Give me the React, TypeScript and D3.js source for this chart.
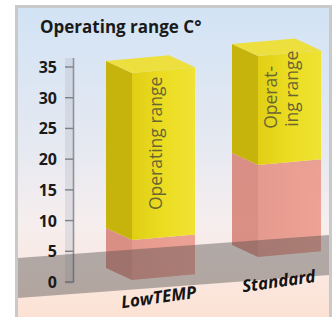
import React from "react";
import * as d3 from "d3";

const categories = ["LowTEMP", "Standard"];
const ambientTop = [6.5, 15];
const rangeTop = [33.7, 32.7];
const tickValues = [0, 5, 10, 15, 20, 25, 30, 35];
const title = "Operating range C°";
const barTextLines = [["Operating range"], ["Operat-", "ing range"]];

const W = 332;
const H = 317;

export default function App() {
  const y = d3.scaleLinear().domain([0, 35]).range([282, 67]);
  const hgt = (v: number) => y(0) - y(v);
  const x = d3
    .scaleBand<string>()
    .domain(categories)
    .range([132, 321])
    .paddingInner(0.5)
    .paddingOuter(0);
  const floor = d3.scaleLinear().domain([132, 258]).range([280, 257]);
  const slope = -0.09;
  const dep = [-26, -12];

  const pt = (p: number[]) => p.map((v) => v.toFixed(1)).join(",");

  const box = (
    x0: number,
    w: number,
    yb: number,
    v0: number,
    v1: number,
    cols: { front: string; side: string; top: string },
    key: string,
    showTop: boolean,
    op: number
  ) => {
    const ybL0 = yb - hgt(v0);
    const ybL1 = yb - hgt(v1);
    const fl0 = [x0, ybL0];
    const fr0 = [x0 + w, ybL0 + slope * w];
    const fl1 = [x0, ybL1];
    const fr1 = [x0 + w, ybL1 + slope * w];
    const bl1 = [fl1[0] + dep[0], fl1[1] + dep[1]];
    const br1 = [fr1[0] + dep[0], fr1[1] + dep[1]];
    const bl0 = [fl0[0] + dep[0], fl0[1] + dep[1]];
    return (
      <g key={key} opacity={op}>
        <polygon points={[bl0, fl0, fl1, bl1].map(pt).join(" ")} fill={cols.side} />
        <polygon points={[fl0, fr0, fr1, fl1].map(pt).join(" ")} fill={cols.front} />
        {showTop && (
          <polygon points={[fl1, fr1, br1, bl1].map(pt).join(" ")} fill={cols.top} />
        )}
      </g>
    );
  };

  const pink = { front: "url(#pinkFront)", side: "#d98b80", top: "#eda296" };
  const yellow = { front: "url(#yelFront)", side: "#c6b30c", top: "#ecdf3e" };

  return (
    <svg width={W} height={H} style={{ position: "absolute", left: 0, top: 0 }}>
      <defs>
        <linearGradient id="bg" x1="0" y1="0" x2="0" y2="1">
          <stop offset="0" stopColor="#d2e3f5" />
          <stop offset="0.45" stopColor="#e6e9f1" />
          <stop offset="0.7" stopColor="#f6eeee" />
          <stop offset="1" stopColor="#fde2d4" />
        </linearGradient>
        <linearGradient id="yelFront" x1="0" y1="0" x2="1" y2="0">
          <stop offset="0" stopColor="#e0cf14" />
          <stop offset="0.5" stopColor="#ecdd22" />
          <stop offset="1" stopColor="#efe233" />
        </linearGradient>
        <linearGradient id="pinkFront" x1="0" y1="0" x2="1" y2="0">
          <stop offset="0" stopColor="#e5968a" />
          <stop offset="1" stopColor="#ec9e90" />
        </linearGradient>
      </defs>
      <rect x={0} y={0} width={W} height={H} fill="#ffffff" />
      <rect x={15} y={5} width={317} height={312} fill="#c9c9c9" />
      <rect x={18} y={8} width={311} height={309} fill="url(#bg)" />

      {/* axis ruler */}
      <rect x={65} y={58} width={9} height={226} fill="rgba(175,182,195,0.3)" />
      <line x1={73.5} x2={73.5} y1={58} y2={y(0)} stroke="#8f9296" strokeWidth={1.6} />
      {tickValues.map((t) => (
        <g key={t}>
          <line x1={65} x2={73.5} y1={y(t)} y2={y(t)} stroke="#7d8085" strokeWidth={1.4} />
        </g>
      ))}

      {/* bars */}
      {categories.map((c, i) => {
        const x0 = x(c)!;
        const w = x.bandwidth();
        const yb = floor(x0);
        return (
          <g key={c}>
            {box(x0, w, yb, 0, ambientTop[i], pink, c + "p", false, 0.95)}
            {box(x0, w, yb, ambientTop[i], rangeTop[i], yellow, c + "y", true, 1)}
          </g>
        );
      })}

      {/* bar texts */}
      {categories.map((c, i) => {
        const x0 = x(c)!;
        const lines = barTextLines[i];
        const yb = floor(x0);
        return lines.map((ln, j) => {
          const bx = lines.length === 1 ? x0 + 30 : x0 + 19 + j * 21;
          const by = lines.length === 1 ? yb - hgt(ambientTop[i]) - 30 : yb - hgt(ambientTop[i]) - 36 + j * -2;
          return (
            <text
              key={c + j}
              transform={`translate(${bx},${by}) rotate(-90)`}
              fontFamily="'Open Sans', sans-serif"
              fontSize={17.5}
              fill="#6a6632"
            >
              {ln}
            </text>
          );
        });
      })}

      {/* floor band */}
      <polygon points="18,258 329,235 329,275 18,298" fill="rgba(70,70,70,0.4)" />

      {/* tick labels */}
      {tickValues.map((t) => (
        <text
          key={"l" + t}
          x={57}
          y={y(t) + 6}
          textAnchor="end"
          fontFamily="'Open Sans', sans-serif"
          fontWeight="bold"
          fontSize={16}
          fill="#1a1a1a"
        >
          {t}
        </text>
      ))}

      {/* title */}
      <text x={40} y={33} fontFamily="'Open Sans', sans-serif" fontWeight="bold" fontSize={17} fill="#1a1a1a">
        {title}
      </text>

      {/* category labels */}
      {categories.map((c, i) => {
        const x0 = x(c)!;
        const cx = x0 + x.bandwidth() / 2 - 4 + i * -6;
        const cy = floor(x0) + 23 + i * 7;
        return (
          <text
            key={"c" + c}
            transform={`translate(${cx},${cy}) rotate(-8)`}
            textAnchor="middle"
            fontFamily="'Open Sans', sans-serif"
            fontWeight="bold"
            fontStyle="italic"
            fontSize={17}
            fill="#141414"
          >
            {c}
          </text>
        );
      })}
    </svg>
  );
}
